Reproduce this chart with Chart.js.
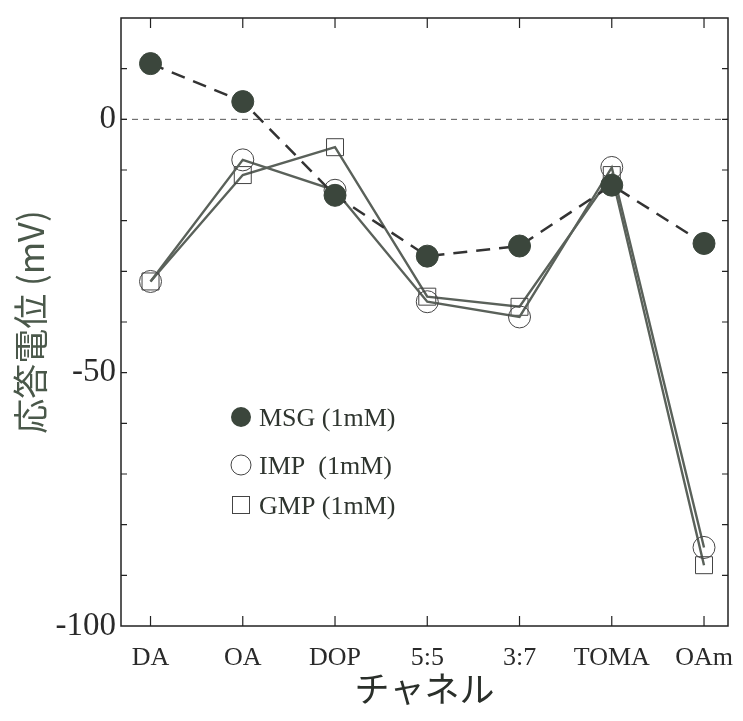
<!DOCTYPE html>
<html><head><meta charset="utf-8">
<script src="https://cdn.jsdelivr.net/npm/chart.js@4/dist/chart.umd.min.js"></script>
<style>html,body{margin:0;padding:0;background:#fff}canvas{display:block}</style>
</head><body>
<canvas id="c" width="743" height="721"></canvas>
<script>
const categories = ['DA', 'OA', 'DOP', '5:5', '3:7', 'TOMA', 'OAm'];
const msg = [11, 3.5, -15, -27, -25, -13, -24.5];
const imp = [-32, -8, -14, -36, -39, -9.5, -84.5];
const gmp = [-32, -11, -5.5, -35, -37, -11, -88];
const yTickLabels = [0, -50, -100];
const seriesNames = ['MSG (1mM)', 'IMP  (1mM)', 'GMP (1mM)'];

const toPts = arr => arr.map((v, i) => ({x: i, y: v}));
const serif = "'Liberation Serif', 'Times New Roman', serif";

const frame = {
  id: 'frame',
  beforeDatasetsDraw(chart) {
    const {ctx, chartArea: a, scales: {y}} = chart;
    ctx.save();
    const y0 = y.getPixelForValue(0);
    ctx.strokeStyle = '#555';
    ctx.lineWidth = 1;
    ctx.setLineDash([6, 5]);
    ctx.beginPath(); ctx.moveTo(a.left, y0); ctx.lineTo(a.right, y0); ctx.stroke();
    ctx.restore();
  },
  afterDraw(chart) {
    const {ctx, chartArea: a, scales: {x, y}} = chart;
    ctx.save();
    ctx.strokeStyle = '#222';
    ctx.lineWidth = 1.5;
    ctx.strokeRect(a.left, a.top, a.right - a.left, a.bottom - a.top);
    ctx.lineWidth = 1.2;
    ctx.beginPath();
    y.ticks.forEach(t => {
      const py = y.getPixelForValue(t.value);
      if (py <= a.top + 1 || py >= a.bottom - 1) return;
      ctx.moveTo(a.left, py); ctx.lineTo(a.left + 6, py);
      ctx.moveTo(a.right, py); ctx.lineTo(a.right - 6, py);
    });
    categories.forEach((c, i) => {
      const px = x.getPixelForValue(i);
      ctx.moveTo(px, a.top); ctx.lineTo(px, a.top + 10);
      ctx.moveTo(px, a.bottom); ctx.lineTo(px, a.bottom - 10);
    });
    ctx.stroke();
    // legend
    const ds = chart.data.datasets;
    const lx = 241, rows = [417, 465, 505];
    ctx.beginPath(); ctx.arc(lx, rows[0], 10, 0, Math.PI * 2);
    ctx.fillStyle = '#3b463c'; ctx.fill();
    ctx.strokeStyle = '#444'; ctx.lineWidth = 1;
    ctx.beginPath(); ctx.arc(lx, rows[1], 10, 0, Math.PI * 2); ctx.stroke();
    ctx.strokeRect(lx - 8.5, rows[2] - 8.5, 17, 17);
    ctx.font = '26px ' + serif;
    ctx.fillStyle = '#2f352f';
    ctx.textBaseline = 'middle';
    ctx.textAlign = 'left';
    ds.forEach((d, i) => ctx.fillText(d.label, 259, rows[i] + 2));
    ctx.restore();
  }
};

new Chart(document.getElementById('c'), {
  type: 'line',
  data: {
    datasets: [
      {label: seriesNames[0], data: toPts(msg), borderColor: '#333', borderWidth: 2.5,
       borderDash: [14, 9], pointStyle: 'circle', pointRadius: 11, pointBackgroundColor: '#3b463c',
       pointBorderColor: '#3b463c', pointBorderWidth: 1, tension: 0},
      {label: seriesNames[1], data: toPts(imp), borderColor: '#5a615a', borderWidth: 2.4,
       pointStyle: 'circle', pointRadius: 11, pointBackgroundColor: 'rgba(255,255,255,0)',
       pointBorderColor: '#444', pointBorderWidth: 1, tension: 0},
      {label: seriesNames[2], data: toPts(gmp), borderColor: '#5a615a', borderWidth: 2.4,
       pointStyle: 'rect', pointRadius: 12, pointBackgroundColor: 'rgba(255,255,255,0)',
       pointBorderColor: '#444', pointBorderWidth: 1, tension: 0}
    ]
  },
  options: {
    responsive: false,
    animation: false,
    events: [],
    layout: {padding: {top: 18, right: 15, left: 0, bottom: 0}},
    plugins: {legend: {display: false}, tooltip: {enabled: false}},
    scales: {
      x: {
        type: 'linear', min: -0.32, max: 6.26,
        afterBuildTicks: s => { s.ticks = categories.map((c, i) => ({value: i})); },
        ticks: {callback: v => categories[v] ?? '', autoSkip: false, maxRotation: 0,
                font: {family: serif, size: 26}, color: '#2a2a2a', padding: 17},
        grid: {display: false, drawTicks: false},
        border: {display: false},
        title: {display: true, text: 'チャネル', color: '#2a2f2a',
                font: {family: "'Noto Sans CJK JP', sans-serif", size: 35}, padding: {top: 0, bottom: 11}},
        afterFit: s => { s.height = 95; s.paddingLeft = 0; s.paddingRight = 0; }
      },
      y: {
        type: 'linear', min: -100, max: 20,
        ticks: {stepSize: 10, autoSkip: false,
                callback: v => yTickLabels.includes(v) ? String(v) : '',
                font: {family: serif, size: 33}, color: '#2a2a2a', padding: 5},
        grid: {display: false, drawTicks: false},
        border: {display: false},
        title: {display: true, text: '応答電位 (mV)', color: '#4a584a',
                font: {family: "'Noto Sans CJK JP', sans-serif", size: 35}, padding: {top: 10, bottom: 0}},
        afterFit: s => { s.width = 121; s.paddingTop = 0; s.paddingBottom = 0; }
      }
    }
  },
  plugins: [frame]
});
</script>
</body></html>
